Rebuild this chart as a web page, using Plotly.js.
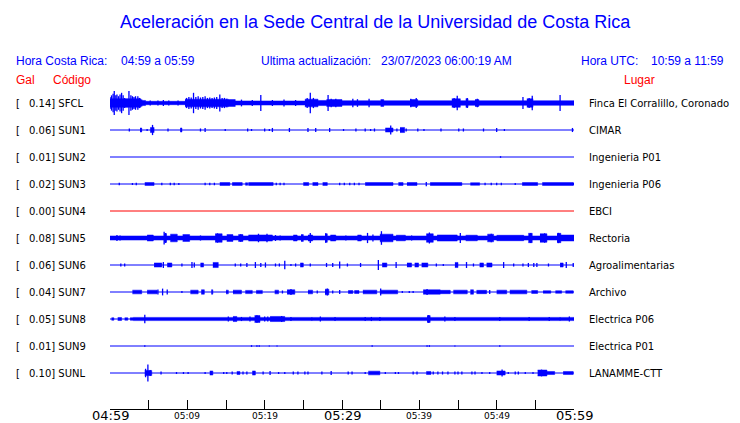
<!DOCTYPE html>
<html><head><meta charset="utf-8">
<script src="https://cdn.plot.ly/plotly-3.0.1.min.js"></script>
<style>html,body{margin:0;padding:0;background:#fff}#chart{width:740px;height:423px}</style>
</head><body><div id="chart"></div>
<script>
// ---- station metadata ----
const codes  = ['SFCL','SUN1','SUN2','SUN3','SUN4','SUN5','SUN6','SUN7','SUN8','SUN9','SUNL'];
const galMax = ['0.14','0.06','0.01','0.02','0.00','0.08','0.06','0.04','0.05','0.01','0.10'];
const places = ['Finca El Corralillo, Coronado','CIMAR','Ingenieria P01','Ingenieria P06','EBCI','Rectoria',
                'Agroalimentarias','Archivo','Electrica P06','Electrica P01','LANAMME-CTT'];
const traceColors = ['#0000ff','#0000ff','#0000ff','#0000ff','#ff0000','#0000ff','#0000ff','#0000ff','#0000ff','#0000ff','#0000ff'];

// ---- time axis (minutes after 04:59) ----
const tickMinutes = [0,5,10,15,20,25,30,35,40,45,50,55,60];
const labelMinutes = [0,10,20,30,40,50,60];
const labelTexts   = ['04:59','05:09','05:19','05:29','05:39','05:49','05:59'];
const labelBig     = [true,false,false,true,false,false,true];

// ---- envelope data: bands [t0,t1,amp gal], spikes [t,amp gal] ----
const sfclBands = [[0,4.0,0.05],[4.0,4.6,0.03],[4.6,9.7,0.02],[9.7,15.3,0.045],[15.3,16.2,0.04],
  [16.2,25.2,0.024],[25.2,26.9,0.045],[26.9,28,0.03],[28,30,0.04],[30,60,0.027],[35.0,35.4,0.04],
  [38.8,39.8,0.04],[44.2,45.3,0.05],[46.0,46.3,0.05],[47.2,47.7,0.04],[53.9,54.7,0.05]];
const sfclSpikes = [[0.0,0.07],[0.2,0.09],[0.4,0.11],[0.55,0.14],[0.75,0.09],[0.9,0.1],[1.1,0.08],[1.3,0.1],
  [1.5,0.12],[1.7,0.09],[1.9,0.06],[2.2,0.05],[2.45,0.14],[2.7,0.09],[2.9,0.08],[3.1,0.07],[3.3,0.08],
  [3.6,0.08],[3.8,0.06],[4.1,0.04],[5.2,0.03],[6.2,0.028],[6.9,0.035],[7.6,0.03],[8.8,0.03],
  [9.9,0.06],[10.2,0.07],[10.5,0.065],[10.8,0.12],[11.1,0.07],[11.4,0.08],[11.7,0.065],[12.0,0.07],
  [12.3,0.08],[12.6,0.06],[12.9,0.065],[13.2,0.06],[13.5,0.065],[13.8,0.07],[14.2,0.1],[14.5,0.06],
  [14.8,0.06],[15.1,0.05],[17.0,0.04],[18.4,0.035],[19.5,0.095],[21,0.035],[22.5,0.04],[24,0.035],
  [25.5,0.06],[25.9,0.12],[26.3,0.06],[28.2,0.095],[28.6,0.05],[29.2,0.05],[31.4,0.05],[32,0.045],
  [33.5,0.05],[38.9,0.05],[39.6,0.06],[44.5,0.06],[44.9,0.085],[46.2,0.06],[47.5,0.05],[53.4,0.07],
  [54.2,0.06],[54.6,0.085],[58.2,0.095]];

const sun1Bands = [[3.9,4.1,0.024],[5.2,5.7,0.03],[9.1,9.3,0.024],[35.6,36.6,0.024],[37.5,38.1,0.03]];
const sun1Spikes = [[2.5,0.018],[4.0,0.024],[4.8,0.012],[5.5,0.06],[7.5,0.018],[9.2,0.024],[11.7,0.018],
  [12.3,0.024],[14.9,0.012],[17.8,0.018],[18.3,0.012],[20.0,0.018],[20.6,0.012],[21.0,0.024],[23.2,0.024],
  [25.6,0.024],[26.6,0.024],[28.4,0.024],[30.2,0.012],[31.8,0.018],[33.0,0.018],[33.7,0.012],[34.2,0.018],
  [36.3,0.053],[37.1,0.018],[38.3,0.018],[39.8,0.018],[40.6,0.012],[42.8,0.018],[45.1,0.018],[45.7,0.018],
  [48.3,0.018],[50.0,0.024],[51.0,0.012],[59.8,0.024]];

const sun2Bands = [];
const sun2Spikes = [[50.5,0.01]];

const sun3Bands = [[4.5,5.7,0.017],[14.2,15.5,0.017],[15.8,17.1,0.017],[17.5,17.8,0.015],[17.9,21.1,0.017],
  [25.0,25.7,0.017],[26.2,26.9,0.017],[27.5,28.1,0.017],[33.0,36.6,0.017],[37.3,37.9,0.017],[38.4,39.7,0.017],
  [41.4,45.5,0.017],[46.6,47.8,0.015],[53.3,55.3,0.017],[55.9,59.9,0.017]];
const sun3Spikes = [[1.2,0.015],[2.9,0.012],[3.4,0.015],[6.7,0.015],[7.8,0.015],[8.3,0.015],[8.9,0.012],
  [12.3,0.015],[12.9,0.015],[13.5,0.015],[21.5,0.015],[22.0,0.015],[22.5,0.015],[29.7,0.015],[30.3,0.015],
  [31.0,0.015],[31.6,0.015],[32.2,0.015],[40.9,0.025],[48.5,0.015],[49.3,0.015],[50.0,0.015],[50.6,0.015],
  [52.4,0.012],[59.95,0.015]];

const sun4Bands = [];
const sun4Spikes = [];

const sun5Bands = [[0,60,0.024],[4.8,5.6,0.035],[7.0,7.3,0.05],[7.8,8.7,0.045],[9.4,10.3,0.04],[13.6,14.5,0.05],
  [15.1,15.9,0.04],[16.6,17.2,0.04],[17.9,21.0,0.036],[23.7,24.2,0.035],[24.7,25.0,0.04],[25.6,26.2,0.035],
  [27.8,28.1,0.05],[28.5,29.2,0.035],[32.0,32.5,0.035],[34.9,36.6,0.045],[37.0,38.2,0.033],[40.9,41.8,0.05],
  [42.3,44.9,0.036],[46.0,47.5,0.033],[48.8,49.6,0.045],[50.0,53.5,0.032],[54.1,54.6,0.055],[55.6,56.5,0.05],
  [57.8,58.3,0.055],[58.3,60,0.035]];
const sun5Spikes = [[0.9,0.035],[1.3,0.03],[1.8,0.024],[7.0,0.075],[7.2,0.06],[11.7,0.03],[13.9,0.055],
  [16.9,0.045],[19.2,0.05],[20.3,0.05],[21.4,0.035],[22.0,0.03],[25.9,0.06],[27.9,0.055],[30.5,0.03],
  [33.3,0.06],[34.0,0.04],[35.1,0.08],[39.0,0.03],[41.3,0.065],[45.3,0.06],[49.3,0.05],[54.4,0.06],
  [56.2,0.055],[58.0,0.06]];

const sun6Bands = [[5.7,6.7,0.024],[7.4,8.0,0.024],[11.7,12.1,0.024],[13.3,14.0,0.03],[24.6,25.0,0.024],
  [35.2,35.8,0.024],[38.4,39.0,0.024],[39.4,39.9,0.024],[40.3,41.1,0.024],[44.6,45.0,0.03],[47.8,48.3,0.024],
  [48.7,49.4,0.024],[58.2,58.6,0.024]];
const sun6Spikes = [[1.4,0.018],[1.9,0.018],[6.9,0.035],[9.3,0.018],[10.6,0.035],[10.9,0.03],[16.2,0.018],
  [16.9,0.018],[17.7,0.024],[18.8,0.035],[19.5,0.024],[20.1,0.03],[21.4,0.018],[21.9,0.018],[22.6,0.05],
  [23.4,0.012],[24.0,0.018],[25.9,0.018],[28.0,0.024],[28.8,0.024],[29.7,0.04],[30.7,0.018],[32.4,0.024],
  [34.7,0.06],[37.0,0.035],[42.2,0.018],[43.1,0.012],[46.1,0.035],[47.0,0.018],[50.9,0.035],[52.2,0.018],
  [53.4,0.018],[54.1,0.024],[54.8,0.024],[55.2,0.024],[56.7,0.018],[59.0,0.035],[59.9,0.024]];

const sun7Bands = [[2.9,4.1,0.022],[4.8,6.1,0.022],[10.4,11.4,0.022],[11.8,12.2,0.026],[13.1,13.3,0.026],
  [15.0,15.3,0.022],[15.9,17.0,0.022],[17.5,18.4,0.019],[18.9,19.7,0.019],[21.3,21.8,0.022],[22.9,23.9,0.026],
  [25.6,26.2,0.022],[27.8,28.3,0.033],[30.8,31.4,0.017],[31.6,32.2,0.017],[32.7,34.5,0.022],[34.9,37.2,0.022],
  [40.5,42.7,0.026],[42.7,44.0,0.02],[44.4,46.2,0.022],[46.6,47.0,0.026],[47.4,48.7,0.02],[50.0,51.3,0.022],
  [51.7,53.9,0.022],[54.5,55.3,0.017],[56.0,57.0,0.015],[57.6,58.4,0.015],[58.9,59.9,0.015]];
const sun7Spikes = [[6.2,0.03],[6.8,0.04],[7.4,0.03],[9.3,0.012],[22.3,0.018],[23.4,0.035],[26.8,0.018],
  [28.1,0.04],[28.8,0.018],[29.7,0.024],[35.0,0.04],[37.8,0.012],[38.7,0.012],[39.2,0.012],[41.0,0.035],
  [49.1,0.024]];

const sun8Bands = [[0.2,0.5,0.015],[1.0,1.5,0.018],[1.9,2.3,0.015],[2.6,3.0,0.015],[3.0,60,0.019],
  [15.9,16.4,0.03],[18.7,19.4,0.04],[20.7,22.6,0.03],[41.0,41.4,0.04]];
const sun8Spikes = [[4.5,0.05],[15.3,0.03],[17.0,0.024],[18.1,0.03],[19.0,0.045],[20.0,0.03],[20.4,0.03],
  [22.2,0.035],[23.4,0.024],[26.1,0.018],[27.2,0.03],[29.1,0.024],[33.0,0.024],[33.8,0.024],[34.9,0.024],
  [41.2,0.045],[43.3,0.03],[44.6,0.024],[50.4,0.024],[54.2,0.024],[56.8,0.024],[58.2,0.018],[59.4,0.03]];

const sun9Bands = [];
const sun9Spikes = [[4.5,0.01],[18.3,0.01],[19.0,0.008],[19.3,0.008],[20.6,0.006],[21.6,0.006],[33.9,0.008],
  [41.0,0.01],[41.3,0.01],[44.6,0.006],[50.4,0.01]];

const sunlBands = [[4.5,5.4,0.03],[12.9,13.3,0.024],[16.4,16.8,0.018],[18.4,18.8,0.024],[33.4,34.9,0.022],
  [40.9,41.5,0.018],[50.0,51.1,0.024],[55.3,56.5,0.035],[56.5,57.5,0.018],[58.6,59.9,0.018]];
const sunlSpikes = [[4.6,0.05],[4.9,0.10],[5.2,0.035],[6.6,0.018],[8.6,0.012],[9.5,0.012],[10.1,0.012],
  [12.3,0.012],[14.7,0.012],[15.1,0.012],[15.8,0.018],[17.2,0.018],[17.7,0.018],[19.8,0.018],[20.7,0.024],
  [21.8,0.012],[22.6,0.012],[23.7,0.018],[24.3,0.018],[25.2,0.018],[25.6,0.018],[27.4,0.018],[28.6,0.024],
  [30.8,0.018],[31.3,0.018],[33.0,0.012],[35.6,0.012],[36.9,0.012],[37.3,0.012],[39.2,0.018],[39.7,0.018],
  [41.8,0.018],[42.4,0.018],[43.0,0.018],[43.7,0.018],[44.6,0.018],[45.0,0.018],[45.5,0.018],[46.8,0.018],
  [47.2,0.018],[48.1,0.012],[49.1,0.012],[50.7,0.04],[51.5,0.012],[52.4,0.018],[52.8,0.018],[53.7,0.012],
  [54.7,0.012],[55.8,0.04]];

const allBands  = [sfclBands,sun1Bands,sun2Bands,sun3Bands,sun4Bands,sun5Bands,sun6Bands,sun7Bands,sun8Bands,sun9Bands,sunlBands];
const allSpikes = [sfclSpikes,sun1Spikes,sun2Spikes,sun3Spikes,sun4Spikes,sun5Spikes,sun6Spikes,sun7Spikes,sun8Spikes,sun9Spikes,sunlSpikes];

// ---- geometry (styles) ----
const W = 740, H = 423;
const PL = 110, PR = 574, PT = 88, PB = 409;    // plot area in px
const ROW0 = 103, ROWH = 27;                      // first row centre, row spacing (px)
const PX_PER_GAL = 85;
const ROWS_PER_GAL = PX_PER_GAL / ROWH;
const yTop = (PT - ROW0) / ROWH, yBot = (PB - ROW0) / ROWH;
const px = x => (x - PL) / (PR - PL);
const py = y => (PB - y) / (PB - PT);

const data = [];
codes.forEach((c, i) => {
  const col = traceColors[i];
  data.push({x:[0,60], y:[i,i], mode:'lines', line:{color:col, width:1}, hoverinfo:'skip'});
  const bx = [], by = [];
  allBands[i].forEach(([t0,t1,a]) => {
    const h = a * ROWS_PER_GAL;
    bx.push(t0,t1,t1,t0,null); by.push(i-h,i-h,i+h,i+h,null);
  });
  if (bx.length) data.push({x:bx, y:by, mode:'lines', fill:'toself', fillcolor:col,
    line:{color:col, width:0.5}, hoverinfo:'skip'});
  const sx = [], sy = [];
  allSpikes[i].forEach(([t,a]) => {
    const h = a * ROWS_PER_GAL;
    sx.push(t,t,null); sy.push(i-h,i+h,null);
  });
  if (sx.length) data.push({x:sx, y:sy, mode:'lines', line:{color:col, width:1.3}, hoverinfo:'skip'});
});

const ann = [];
const hdrFont = (size, color) => ({family:'Liberation Sans, Arial, sans-serif', size:size, color:color});
const lblFont = {family:'DejaVu Sans, sans-serif', size:10, color:'#000'};
function addText(text, x, y, font, anchor) {
  ann.push({text:text, xref:'paper', yref:'paper', x:px(x), y:py(y), xanchor:anchor||'left',
    yanchor:'middle', showarrow:false, font:font});
}
addText('Aceleración en la Sede Central de la Universidad de Costa Rica', 375, 22, hdrFont(18,'#0000ff'), 'center');
addText('Hora Costa Rica:', 14, 61, hdrFont(12,'#0000ff'));
addText('04:59 a 05:59', 119, 61, hdrFont(12,'#0000ff'));
addText('Ultima actualización:', 259, 61, hdrFont(12,'#0000ff'));
addText('23/07/2023 06:00:19 AM', 379, 61, hdrFont(12,'#0000ff'));
addText('Hora UTC:', 579, 61, hdrFont(12,'#0000ff'));
addText('10:59 a 11:59', 649, 61, hdrFont(12,'#0000ff'));
addText('Gal', 14, 80, hdrFont(12,'#ff0000'));
addText('Código', 51, 80, hdrFont(12,'#ff0000'));
addText('Lugar', 622, 80, hdrFont(12,'#ff0000'));

codes.forEach((c, i) => {
  const yy = ROW0 + i * ROWH;
  addText('[', 14, yy, lblFont);
  addText(galMax[i] + '] ' + c, 27, yy, lblFont);
  addText(places[i], 587, yy, lblFont);
});

labelMinutes.forEach((m, k) => {
  ann.push({text:labelTexts[k], xref:'x', yref:'paper', x:m, y:py(415.5), xanchor:'center', yanchor:'middle',
    showarrow:false, font:{family:'DejaVu Sans, sans-serif', size: labelBig[k] ? 13 : 9, color:'#000'}});
});

const layout = {
  width:W, height:H, showlegend:false,
  paper_bgcolor:'#fff', plot_bgcolor:'#fff',
  margin:{l:PL, r:W-PR, t:PT, b:H-PB, pad:0},
  xaxis:{range:[0,60], showgrid:false, zeroline:false, showline:true, linecolor:'#000', linewidth:1,
    ticks:'inside', ticklen:9, tickwidth:1, tickcolor:'#000', tickmode:'array', tickvals:tickMinutes,
    showticklabels:false, fixedrange:true},
  yaxis:{range:[yBot, yTop], showgrid:false, zeroline:false, showline:false, showticklabels:false,
    ticks:'', fixedrange:true},
  annotations: ann,
  hovermode:false
};
Plotly.newPlot('chart', data, layout, {staticPlot:true, displayModeBar:false});
</script>
</body></html>
